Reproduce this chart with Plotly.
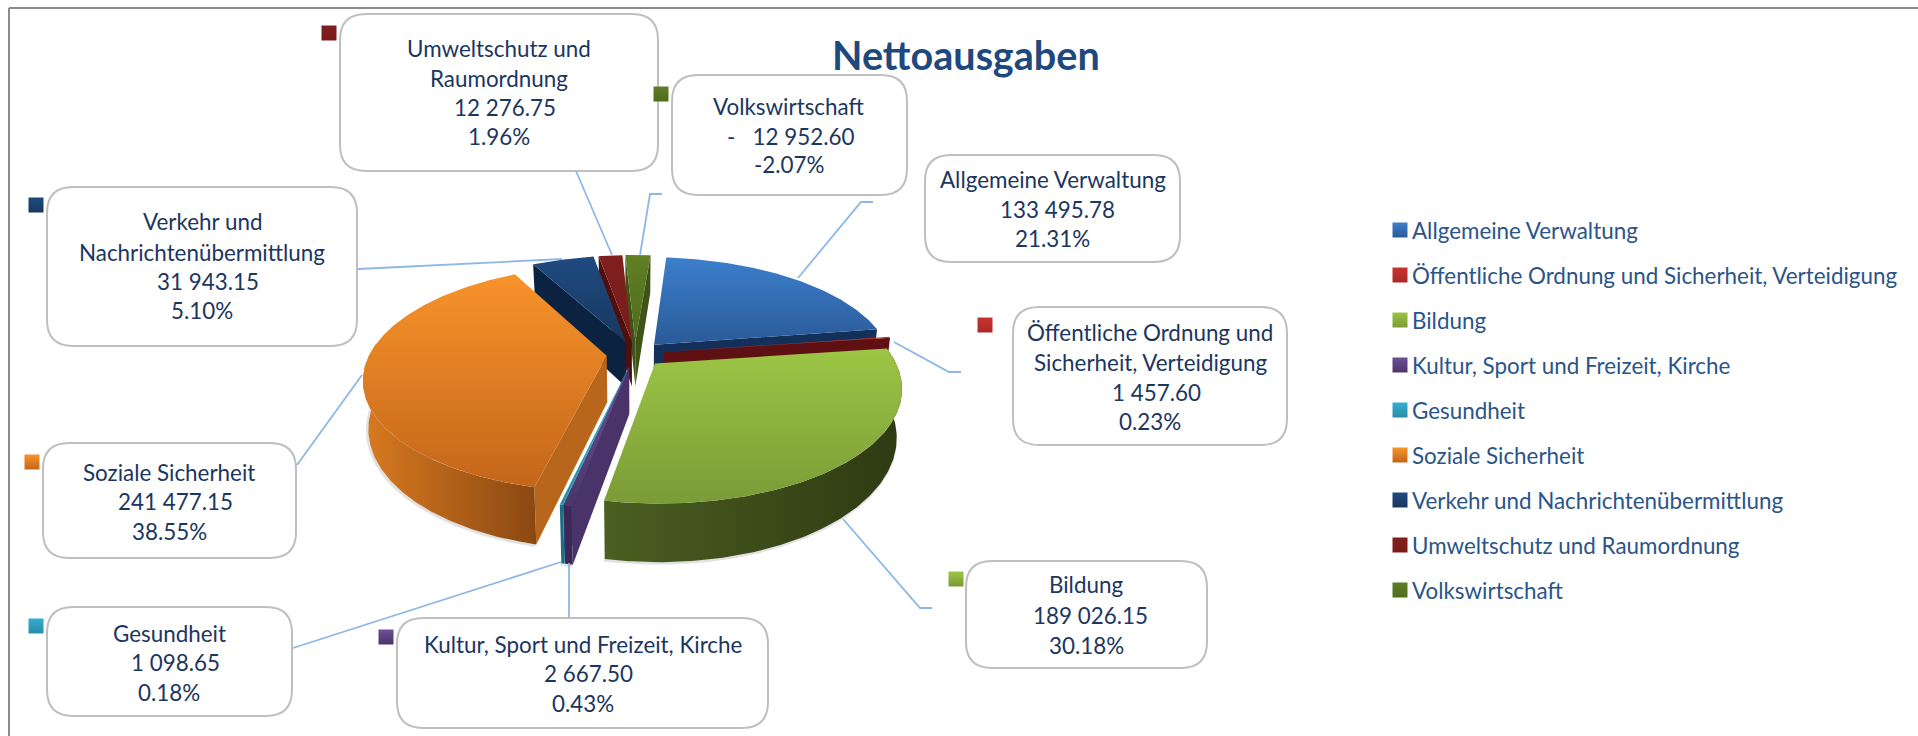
import math
import plotly.graph_objects as go

# ---------- data ----------
categories = ["Allgemeine Verwaltung", "Öffentliche Ordnung und Sicherheit, Verteidigung", "Bildung",
              "Kultur, Sport und Freizeit, Kirche", "Gesundheit", "Soziale Sicherheit",
              "Verkehr und Nachrichtenübermittlung", "Umweltschutz und Raumordnung", "Volkswirtschaft"]
values = [133495.78, 1457.60, 189026.15, 2667.50, 1098.65, 241477.15, 31943.15, 12276.75, -12952.60]
label_name_lines = [["Allgemeine Verwaltung"], ["Öffentliche Ordnung und", "Sicherheit, Verteidigung"], ["Bildung"],
                    ["Kultur, Sport und Freizeit, Kirche"], ["Gesundheit"], ["Soziale Sicherheit"],
                    ["Verkehr und", "Nachrichtenübermittlung"], ["Umweltschutz und", "Raumordnung"], ["Volkswirtschaft"]]
title_text = "Nettoausgaben"

# ---------- style ----------
top_colors = [("#3C7FCC", "#2A5A98"), ("#C9332F", "#A82A26"), ("#9CC645", "#7B9B37"), ("#6F4E97", "#4B3569"),
              ("#33AECF", "#2A8CA8"), ("#F8932A", "#C4661B"), ("#1F4A80", "#17385F"), ("#7F1F1E", "#7A1C1B"),
              ("#5F7F24", "#4F6B1E")]
wall_colors = [("#12305A", "#12305A"), ("#5F1012", "#5F1012"), ("#4B5F21", "#2E3A12"), ("#3C2858", "#3C2858"),
               ("#1C6C85", "#1C6C85"), ("#D97A20", "#8A4812"), ("#0B2340", "#0B2340"), ("#4F0F0F", "#4F0F0F"),
               ("#3E5416", "#3E5416")]
cut_colors = ["#12305A", "#5F1012", "#2E3A12", "#4A3369", "#1C6C85", "#B8661B", "#0B2340", "#4F0F0F", "#3E5416"]
LABEL_COLOR = "#1B3660"
LEGEND_COLOR = "#2B5488"
LEADER = "#8DB7E6"
BORDER = "#BFBFBF"
FONT = "Lato"
LABEL_SIZE = 22.4

# ---------- pie projection ----------
CX, CY, A, B, K, H, EXPLODE, START = 635, 354, 237, 108, 0.198, 46, 0.12, 4.5


def project(X, Y, down=False):
    s = 1 / (1 + K * Y)
    x = A * X * s
    y = CY - B * Y * s
    if down:
        return CX + x * 0.98, y + H * s
    return CX + x, y


abs_total = sum(abs(v) for v in values)
shares = [abs(v) / abs_total for v in values]
slices = []
ang = START
for i, sh in enumerate(shares):
    slices.append((i, ang, ang + sh * 360))
    ang += sh * 360


def rim(a0, a1, mid, n=None):
    n = n or max(3, int(abs(a1 - a0) * 1.5))
    ox, oy = EXPLODE * math.sin(math.radians(mid)), EXPLODE * math.cos(math.radians(mid))
    return [(math.sin(math.radians(a0 + (a1 - a0) * t / n)) + ox,
             math.cos(math.radians(a0 + (a1 - a0) * t / n)) + oy) for t in range(n + 1)]


fig = go.Figure()


def poly(pts, colors, kind="vertical"):
    xs, ys = zip(*pts)
    trace = dict(x=list(xs) + [xs[0]], y=list(ys) + [ys[0]], mode="lines", fill="toself",
                 line=dict(width=0), hoverinfo="skip", showlegend=False)
    if colors[0] == colors[1]:
        trace["fillcolor"] = colors[0]
    else:
        # the gradient runs along the data axis, and y grows downwards here
        scale = [[0, colors[1]], [1, colors[0]]] if kind == "vertical" else [[0, colors[0]], [1, colors[1]]]
        trace["fillgradient"] = dict(type=kind, colorscale=scale)
    fig.add_trace(go.Scatter(**trace))


def mid_y(sl):
    return math.cos(math.radians((sl[1] + sl[2]) / 2))


# soft shadow below the pie
for sl in slices:
    i, a0, a1 = sl
    mid = (a0 + a1) / 2
    arc = rim(a0, a1, mid)
    front = [p for p in arc if p[1] < 0.15]
    if len(front) > 1:
        pts = [project(*p, True) for p in front]
        fig.add_trace(go.Scatter(x=[p[0] - 1 for p in pts], y=[p[1] + 1 for p in pts], mode="lines",
                                 line=dict(color="rgba(120,120,120,0.22)", width=3),
                                 hoverinfo="skip", showlegend=False))

for sl in sorted(slices, key=mid_y, reverse=True):
    i, a0, a1 = sl
    mid = (a0 + a1) / 2
    arc = rim(a0, a1, mid)
    apex = (EXPLODE * math.sin(math.radians(mid)), EXPLODE * math.cos(math.radians(mid)))

    def cut_wall(p):
        poly([project(*apex), project(*p), project(*p, True), project(*apex, True)],
             (cut_colors[i], cut_colors[i]))

    # radial walls that face away are covered; those that face the viewer are drawn
    if math.sin(math.radians(a0)) < 0:
        cut_wall(arc[0])
    if math.sin(math.radians(a1)) > 0:
        cut_wall(arc[-1])
    # outer curved wall
    front = [p for p in arc if p[1] - apex[1] < 0.12]
    if len(front) > 1:
        poly([project(*p) for p in front] + [project(*p, True) for p in reversed(front)], wall_colors[i], "horizontal")
    # top
    poly([project(*apex)] + [project(*p) for p in arc], top_colors[i], "vertical")

# ---------- frame ----------
fig.add_trace(go.Scatter(x=[9, 9, None, 9, 1918], y=[736, 8, None, 8, 8], mode="lines",
                         line=dict(color="#8C8C8C", width=2), hoverinfo="skip", showlegend=False))

# ---------- leader lines ----------
leader_paths = [
    ([873, 861, 798], [202, 202, 278]),
    ([961, 949, 894], [372, 372, 342]),
    ([932, 920, 843], [608, 608, 519]),
    ([569, 569], [617, 563]),
    ([293, 561], [648, 562]),
    ([297, 362], [465, 375]),
    ([358, 562], [269, 259]),
    ([576, 612], [171, 255]),
    ([662, 650, 640], [194, 194, 255]),
]
for lx, ly in leader_paths:
    fig.add_trace(go.Scatter(x=lx, y=ly, mode="lines", line=dict(color=LEADER, width=1.8),
                             hoverinfo="skip", showlegend=False))

# ---------- callouts ----------
boxes = [(925, 1180, 155, 262), (1013, 1287, 307, 445), (966, 1207, 561, 668), (397, 768, 618, 728),
         (47, 292, 607, 716), (43, 296, 443, 558), (47, 357, 187, 346), (340, 658, 14, 171), (672, 907, 75, 195)]
squares = [None, (985, 325), (956, 579), (386, 637), (36, 626), (32, 462), (36, 205), (329, 33), (661, 94)]
# x centres of the name, value and percent lines; y centre of each line
line_x = [(1052.5, 1057, 1052.5), (1150, 1156, 1150), (1086, 1090, 1086), (583, 588, 583), (169, 175, 169),
          (169, 175, 169), (202, 207.6, 202), (499, 504.5, 499), (789, 790, 789.6)]
line_y = [[180, 210, 239], [333, 363, 393, 422], [585, 616, 646], [645, 674, 704], [634, 663, 693],
          [473, 502, 532], [222, 253, 282, 311], [49, 79, 108, 137], [107, 137, 165]]


def round_rect(x0, x1, y0, y1, r=26):
    return (f"M{x0+r},{y0} L{x1-r},{y0} Q{x1},{y0} {x1},{y0+r} L{x1},{y1-r} Q{x1},{y1} {x1-r},{y1} "
            f"L{x0+r},{y1} Q{x0},{y1} {x0},{y1-r} L{x0},{y0+r} Q{x0},{y0} {x0+r},{y0} Z")


def fmt_value(v):
    s = f"{abs(v):,.2f}".replace(",", " ")
    return ("-   " + s) if v < 0 else s


shapes = []
annotations = []
for i, (x0, x1, y0, y1) in enumerate(boxes):
    shapes.append(dict(type="path", path=round_rect(x0, x1, y0, y1), xref="x", yref="y", layer="below",
                       fillcolor="white", line=dict(color=BORDER, width=2)))
    pct = f"{values[i] / abs_total * 100:.2f}%"
    names = label_name_lines[i]
    lines = names + [fmt_value(values[i]), pct]
    xs = [line_x[i][0]] * len(names) + [line_x[i][1], line_x[i][2]]
    for txt, lx, ly in zip(lines, xs, line_y[i]):
        annotations.append(dict(x=lx, y=ly - 1, text=txt, showarrow=False, xanchor="center", yanchor="middle",
                                font=dict(family=FONT, size=LABEL_SIZE, color=LABEL_COLOR)))
    if squares[i]:
        sx, sy = squares[i]
        fig.add_trace(go.Scatter(x=[sx], y=[sy], mode="markers", hoverinfo="skip", showlegend=False,
                                 marker=dict(symbol="square", size=15, color=top_colors[i][0], line=dict(width=0),
                                             gradient=dict(type="vertical", color=top_colors[i][1]))))

# ---------- legend ----------
legend_x = [1400] * 9
legend_y = [230, 275, 320, 365, 410, 455, 500, 545, 590]
for i in range(9):
    fig.add_trace(go.Scatter(x=[legend_x[i]], y=[legend_y[i]], mode="markers", hoverinfo="skip", showlegend=False,
                             marker=dict(symbol="square", size=15, color=top_colors[i][0], line=dict(width=0),
                                         gradient=dict(type="vertical", color=top_colors[i][1]))))
    annotations.append(dict(x=1410, y=legend_y[i], text=categories[i], showarrow=False, xanchor="left", yanchor="middle",
                            font=dict(family=FONT, size=LABEL_SIZE, color=LEGEND_COLOR)))

# ---------- title ----------
annotations.append(dict(x=966, y=54, text=f"<b>{title_text}</b>", showarrow=False, xanchor="center", yanchor="middle",
                        font=dict(family=FONT, size=39.6, color="#1F497D")))

fig.update_layout(
    width=1918, height=736, margin=dict(l=0, r=0, t=0, b=0), paper_bgcolor="white", plot_bgcolor="white",
    xaxis=dict(range=[0, 1918], visible=False, fixedrange=True),
    yaxis=dict(range=[736, 0], visible=False, fixedrange=True),
    showlegend=False, shapes=shapes, annotations=annotations,
)
fig.write_html("out.html", config=dict(displayModeBar=False),
               post_script="document.body.style.margin='0';document.body.style.overflow='hidden';")
